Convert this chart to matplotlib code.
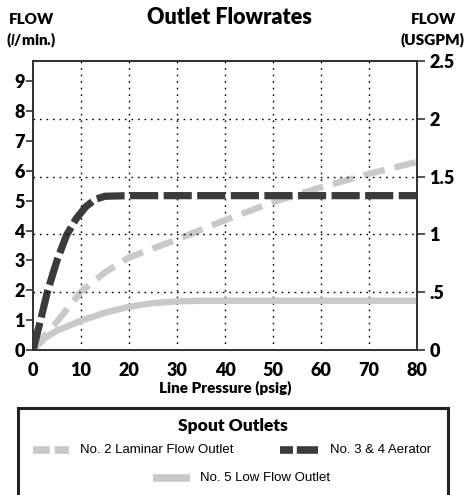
import matplotlib
matplotlib.use("Agg")
import matplotlib.pyplot as plt
from matplotlib.lines import Line2D

# ---- data ----
aerator_x = [0, 1.5, 3, 5, 7, 9, 11, 13, 15, 20, 30, 40, 50, 60, 70, 80]
aerator_y = [0, 0.95, 1.95, 3.0, 3.85, 4.4, 4.8, 5.05, 5.15, 5.17, 5.17, 5.17, 5.17, 5.17, 5.17, 5.17]
laminar_x = [0, 2, 5, 10, 15, 20, 25, 30, 40, 50, 60, 70, 80]
laminar_y = [0, 0.4, 0.95, 1.95, 2.6, 3.1, 3.4, 3.7, 4.35, 4.95, 5.45, 5.9, 6.3]
lowflow_x = [0, 2.5, 5, 10, 15, 20, 25, 30, 35, 40, 50, 60, 70, 80]
lowflow_y = [0, 0.4, 0.65, 0.98, 1.25, 1.45, 1.57, 1.63, 1.65, 1.65, 1.65, 1.65, 1.65, 1.65]
x_ticks = [0, 10, 20, 30, 40, 50, 60, 70, 80]
left_ticks = [0, 1, 2, 3, 4, 5, 6, 7, 8, 9]
right_ticks = [0, 0.5, 1, 1.5, 2, 2.5]
right_labels = ["0", ".5", "1", "1.5", "2", "2.5"]
legend_labels = ["No. 2 Laminar Flow Outlet", "No. 3 & 4 Aerator", "No. 5 Low Flow Outlet"]

DARK = "#3b3b3b"
LIGHT = "#c9c9c9"
SPINE = "#333333"
FONT = "Lato"

plt.rcParams["mathtext.fontset"] = "custom"
plt.rcParams["mathtext.it"] = "Lato:italic:bold"
plt.rcParams["mathtext.rm"] = "Lato:bold"

fig = plt.figure(figsize=(4.65, 4.95), dpi=100)
ax = fig.add_axes([33/465, 1-350/495, 384/465, 289/495])
ax2 = ax.twinx()

ax.set_xlim(0, 80)
ax.set_ylim(0, 9.68)
ax2.set_ylim(0, 2.5)

# grid
for xv in x_ticks[1:-1]:
    ax.axvline(xv, color="black", lw=1.0, ls=(0, (1.2, 3.5)), zorder=1)
for yv in right_ticks[1:-1]:
    ax2.axhline(yv, color="black", lw=1.0, ls=(0, (1.2, 3.5)), zorder=1)

ax.plot(lowflow_x, lowflow_y, color=LIGHT, lw=4.6, solid_capstyle="butt", zorder=3)
ax.plot(laminar_x, laminar_y, color=LIGHT, lw=4.6, ls=(0, (3.4, 1.6)), zorder=4)
ax.plot(aerator_x, aerator_y, color=DARK, lw=5.2, ls=(0, (3.9, 0.75)), zorder=5)

for a in (ax, ax2):
    for s in a.spines.values():
        s.set_color(SPINE)
        s.set_linewidth(1.3)

ax.set_xticks(x_ticks)
ax.set_yticks(left_ticks)
ax2.set_yticks(right_ticks)
ax2.set_yticklabels(right_labels)
ax.tick_params(axis="x", length=0, pad=9, labelsize=13)
ax.tick_params(axis="y", length=5, width=1.2, color=SPINE, pad=1, labelsize=13)
ax2.tick_params(axis="y", length=6, width=1.2, color=SPINE, pad=3, labelsize=13)
for lab in ax.get_xticklabels() + ax.get_yticklabels() + ax2.get_yticklabels():
    lab.set_fontfamily(FONT)
    lab.set_fontweight("heavy")

ax.set_xlabel("Line Pressure (psig)", fontfamily=FONT, fontweight="heavy", fontsize=11, labelpad=1)

fig.text(229/465, 1-17/495, "Outlet Flowrates", ha="center", va="center",
         fontfamily=FONT, fontweight="heavy", fontsize=15.5)
fig.text(31/465, 1-20/495, "FLOW", ha="center", va="center", fontfamily=FONT, fontweight="heavy", fontsize=11)
fig.text(31/465, 1-40/495, r"($\mathit{l}$/min.)", ha="center", va="center", fontfamily=FONT, fontweight="heavy", fontsize=11)
fig.text(433/465, 1-20/495, "FLOW", ha="center", va="center", fontfamily=FONT, fontweight="heavy", fontsize=11)
fig.text(432/465, 1-40/495, "(USGPM)", ha="center", va="center", fontfamily=FONT, fontweight="heavy", fontsize=11)

# legend box
lax = fig.add_axes([18/465, -0.02, 430/465, (1 - 408/495) + 0.02])
lax.set_xlim(0, 430)
lax.set_ylim(0, 1)
lax.set_xticks([]); lax.set_yticks([])
for s in lax.spines.values():
    s.set_color("#222222")
    s.set_linewidth(2.2)
lax.patch.set_alpha(0)

def fy(py):
    # figure pixel y -> legend axes y
    b = -0.02 * 495
    h = (1 - 408/495 + 0.02) * 495
    return ((495 - py) - b) / h

lax.text(215, fy(426), "Spout Outlets", ha="center", va="center", fontfamily=FONT, fontweight="heavy", fontsize=12.5)
lax.add_line(Line2D([15, 51], [fy(450)] * 2, color=LIGHT, lw=5.5, ls=(0, (2.2, 0.65))))
lax.text(62, fy(450), legend_labels[0], ha="left", va="center", fontfamily="Liberation Sans", fontsize=9.5)
lax.add_line(Line2D([262, 300], [fy(450)] * 2, color=DARK, lw=5.5, ls=(0, (1.7, 0.5, 2.8, 0.5))))
lax.text(312, fy(450), legend_labels[1], ha="left", va="center", fontfamily="Liberation Sans", fontsize=9.5)
lax.add_line(Line2D([135, 172], [fy(478)] * 2, color=LIGHT, lw=5.5, solid_capstyle="butt"))
lax.text(182, fy(478), legend_labels[2], ha="left", va="center", fontfamily="Liberation Sans", fontsize=9.5)

fig.savefig("out.png", dpi=100)
